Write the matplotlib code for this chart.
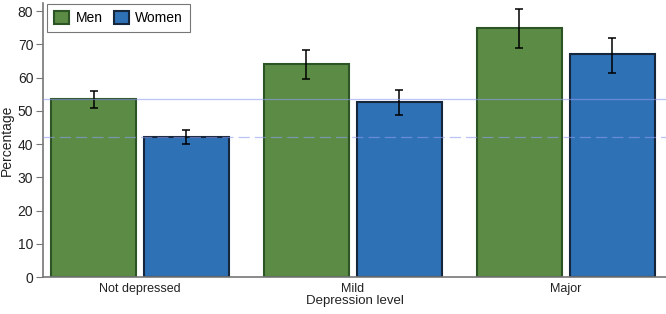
import matplotlib
matplotlib.use("Agg")
import matplotlib.pyplot as plt
import numpy as np

plt.rcParams['font.family'] = ['Liberation Sans', 'DejaVu Sans']

categories = ["Not depressed", "Mild", "Major"]
men = [53.5, 64.2, 74.9]
men_lo = [51.0, 59.5, 68.9]
men_hi = [55.9, 68.2, 80.6]
women = [42.1, 52.6, 67.0]
women_lo = [39.9, 48.7, 61.3]
women_hi = [44.3, 56.2, 71.8]
ref_men = 53.5
ref_women = 42.0

fig = plt.figure(figsize=(6.66, 3.14), dpi=100)
ax = fig.add_axes([0.0646, 0.1178, 0.9354, 0.8722])

x = np.arange(len(categories))
w = 0.40
off = 0.218
green, green_e = "#5c8b45", "#2d5424"
blue, blue_e = "#2e71b5", "#17273b"

ax.bar(x - off, men, width=w, color=green, edgecolor=green_e, linewidth=1.5, label="Men", zorder=2)
ax.bar(x + off, women, width=w, color=blue, edgecolor=blue_e, linewidth=1.5, label="Women", zorder=2)

men_err = [np.array(men) - np.array(men_lo), np.array(men_hi) - np.array(men)]
women_err = [np.array(women) - np.array(women_lo), np.array(women_hi) - np.array(women)]
ax.errorbar(x - off, men, yerr=men_err, fmt='none', ecolor='black', elinewidth=1.1, capsize=2.7, capthick=1.1, zorder=3)
ax.errorbar(x + off, women, yerr=women_err, fmt='none', ecolor='black', elinewidth=1.1, capsize=2.7, capthick=1.1, zorder=3)

ax.axhline(ref_men, color="#8f9cf2", alpha=0.6, linewidth=0.9, zorder=4)
ax.axhline(ref_women, color="#8f9cf2", alpha=0.6, linewidth=0.9, linestyle=(0, (9, 4)), zorder=4)

ax.set_xlim(-0.455, 2.47)
ax.set_ylim(0, 82.4)
ax.set_yticks([0, 10, 20, 30, 40, 50, 60, 70, 80])
ax.set_xticks(x)
ax.set_xticklabels(categories)
ax.tick_params(axis='x', length=0, labelsize=9, pad=4, colors='#222222')
ax.tick_params(axis='y', length=5, labelsize=10, color='#777777', labelcolor='#222222', pad=2)
ax.set_xlabel("Depression level", fontsize=9.5, labelpad=0, color='#222222')
ax.set_ylabel("Percentage", fontsize=10, labelpad=3, color='#222222')

for s in ['top', 'right']:
    ax.spines[s].set_visible(False)
for s in ['left', 'bottom']:
    ax.spines[s].set_color('#777777')
    ax.spines[s].set_linewidth(1.2)

leg = ax.legend(loc='upper left', ncol=2, fontsize=10, frameon=True, fancybox=False,
                edgecolor='#555555', handlelength=1.1, handleheight=1.1, borderpad=0.5,
                columnspacing=0.8, handletextpad=0.45, borderaxespad=0,
                bbox_to_anchor=(47 / 666, 1 - 4 / 314), bbox_transform=fig.transFigure)
leg.get_frame().set_linewidth(0.8)

fig.savefig("out.png", dpi=100)
